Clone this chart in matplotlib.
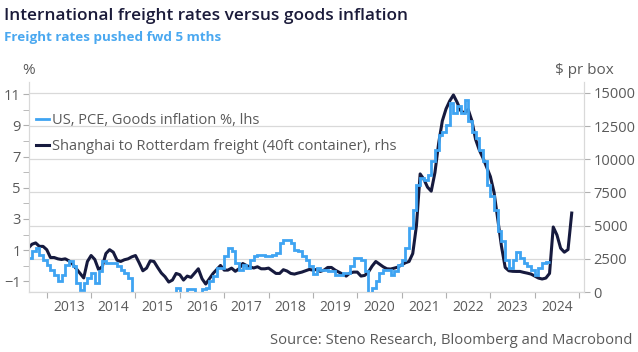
import numpy as np
import matplotlib.pyplot as plt
from matplotlib.ticker import MultipleLocator, FixedLocator, NullFormatter

plt.rcParams['font.family'] = ['Open Sans', 'DejaVu Sans']

# US PCE goods inflation, % y/y, monthly from Aug 2012
pce_2012 = [0.5, 0.92, 1.14, 0.71, 0.4]
pce_2013 = [0.07, -0.25, -0.57, -1.0, -0.57, 0.07, 0.28, -0.04, -1.1, -1.53, -1.1, -0.78]
pce_2014 = [-0.46, -1.1, -0.36, 0.28, 0.18, 0.18, 0.18, -0.04, -0.25, -0.46, -0.8, -2.0]
pce_2015 = [-2.2, -2.6, -2.5, -2.7, -2.5, -2.4, -2.6, -2.8, -2.7, -2.5, -2.3, -1.4]
pce_2016 = [-2.0, -1.9, -1.5, -1.5, -2.0, -1.9, -1.5, -1.4, -1.0, -0.68, -0.12, -0.12]
pce_2017 = [0.6, 1.14, 0.92, 0.18, -0.25, 0.07, -0.14, 0.39, 0.6, 0.71, 0.71, 0.6]
pce_2018 = [0.6, 0.71, 0.8, 1.46, 1.67, 1.67, 1.46, 1.03, 0.92, 0.6, 0.39, -0.04]
pce_2019 = [-0.5, -0.14, -0.25, -0.25, -0.36, -0.36, -0.57, -0.57, -0.46, -0.46, -0.04, 0.5]
pce_2020 = [0.5, 0.39, -0.36, -2.2, -1.42, -1.0, -0.46, -0.25, -0.25, -0.57, -0.36, 0.07]
pce_2021 = [0.39, 1.14, 2.42, 3.6, 5.2, 5.63, 5.52, 5.84, 6.69, 7.44, 8.4, 8.6]
pce_2022 = [9.0, 10.44, 9.8, 10.22, 9.8, 10.6, 9.26, 8.6, 8.2, 7.44, 6.69, 5.2]
pce_2023 = [4.45, 3.6, 2.2, 1.56, 0.39, -0.14, 0.39, 0.86, 0.5, 0.18, -0.04, -0.25]
pce_2024 = [-0.57, -0.14, 0.18, 0.24]

# Shanghai-Rotterdam 40ft container, $ per box, pushed 5 months forward, monthly from Aug 2012
fr_2012 = [3300, 3600, 3700, 3440, 3440]
fr_2013 = [3190, 2600, 2600, 2500, 2450, 2500, 2350, 2100, 1750, 1400, 1060, 2300]
fr_2014 = [2750, 2450, 1700, 1900, 2900, 3190, 3000, 2400, 2300, 2430, 2500, 2650]
fr_2015 = [2750, 2200, 1600, 1800, 2350, 2300, 1850, 1430, 1150, 750, 900, 1400]
fr_2016 = [1300, 900, 1200, 1100, 1430, 1750, 1000, 600, 1000, 1400, 1700, 2000]
fr_2017 = [1650, 1650, 1800, 1560, 1750, 2150, 2000, 1880, 1810, 1900, 1750, 1750]
fr_2018 = [1800, 1600, 1400, 1400, 1680, 1580, 1400, 1350, 1430, 1500, 1600, 1700]
fr_2019 = [1650, 1700, 1550, 1650, 1850, 1850, 1650, 1500, 1350, 1200, 1430, 1500]
fr_2020 = [1500, 1200, 1250, 1500, 1950, 2300, 2100, 1900, 1750, 1730, 1800, 1880]
fr_2021 = [2050, 2200, 2300, 2900, 5000, 8900, 8500, 7900, 7600, 9000, 11200, 12900]
fr_2022 = [13800, 14400, 14850, 14300, 13650, 13500, 13750, 12900, 11500, 10700, 10100, 9400]
fr_2023 = [8700, 7500, 5500, 3440, 1850, 1600, 1560, 1550, 1550, 1480, 1420, 1350]
fr_2024 = [1200, 1050, 980, 1050, 1400, 4900, 4300, 3300, 3000, 3200, 5950]

years = list(range(2013, 2025))
start = 2012 + 7 / 12

pce = np.concatenate([pce_2012, pce_2013, pce_2014, pce_2015, pce_2016, pce_2017, pce_2018,
                      pce_2019, pce_2020, pce_2021, pce_2022, pce_2023, pce_2024])
fr = np.concatenate([fr_2012, fr_2013, fr_2014, fr_2015, fr_2016, fr_2017, fr_2018,
                     fr_2019, fr_2020, fr_2021, fr_2022, fr_2023, fr_2024])
pce_edges = start + np.arange(len(pce) + 1) / 12
fr_t = start + np.arange(len(fr)) / 12

blue = '#3fa4f2'
navy = '#161a3e'
grey = '#5a5a5a'
light = '#d9d9d9'

fig = plt.figure(figsize=(6.38, 3.52), dpi=100)
ax = fig.add_axes([29 / 638, 1 - 292 / 352, 555 / 638, 210 / 352])
ax2 = ax.twinx()
ax.set_zorder(2)
ax2.set_zorder(1)
ax.patch.set_visible(False)

ax2.plot(fr_t, fr, color=navy, lw=2.2, solid_joinstyle='round',
         label='Shanghai to Rotterdam freight (40ft container), rhs')
ax.stairs(pce, pce_edges, baseline=None, color=blue, lw=2.0,
          label='US, PCE, Goods inflation %, lhs')

ax.set_xlim(2012.6, 2025.11)
ax.set_ylim(-1.68, 11.78)
ax2.set_ylim(0, 15829)

ax.yaxis.set_major_locator(FixedLocator([-1, 1, 3, 5, 7, 9, 11]))
ax.yaxis.set_minor_locator(FixedLocator([0, 2, 4, 6, 8, 10]))
ax2.yaxis.set_major_locator(MultipleLocator(2500))
ax2.yaxis.grid(True, color=light, lw=0.9)

ax.xaxis.set_major_locator(FixedLocator(years + [2025]))
ax.xaxis.set_major_formatter(NullFormatter())
ax.xaxis.set_minor_locator(FixedLocator([y + 0.5 for y in years]))
ax.set_xticklabels([str(y) for y in years], minor=True)

for a in (ax, ax2):
    for s in a.spines.values():
        s.set_color(light)
    a.spines['top'].set_visible(False)
ax.tick_params(axis='x', which='major', length=4, color='#b0b0b0')
ax.tick_params(axis='x', which='minor', length=0, labelsize=10, labelcolor=grey, pad=6)
ax.tick_params(axis='y', which='both', length=4, color='#b0b0b0', labelsize=10.5,
               labelcolor=grey, pad=2)
ax2.tick_params(axis='y', length=4, color='#b0b0b0', labelsize=10.5, labelcolor=grey, pad=3)

h1, l1 = ax.get_legend_handles_labels()
h2, l2 = ax2.get_legend_handles_labels()
leg = ax.legend(h1 + h2, l1 + l2, loc='upper left', bbox_to_anchor=(0.0, 0.885),
                frameon=False, fontsize=10.5, handlelength=0.9, handletextpad=0.2,
                labelspacing=0.7, borderaxespad=0.1, labelcolor=grey)

fig.text(4 / 638, 1 - 16 / 352, 'International freight rates versus goods inflation',
         fontsize=12.4, fontweight='semibold', color='#1b1b3a', va='center', ha='left')
fig.text(4 / 638, 1 - 38 / 352, 'Freight rates pushed fwd 5 mths',
         fontsize=9.7, fontweight='bold', color='#4aa8f0', va='center', ha='left')
fig.text(29 / 638, 1 - 70 / 352, '%', fontsize=11, color=grey, va='center', ha='center')
fig.text(584 / 638, 1 - 70 / 352, '$ pr box', fontsize=11, color=grey, va='center', ha='center')
fig.text(632 / 638, 1 - 341 / 352, 'Source: Steno Research, Bloomberg and Macrobond',
         fontsize=10.7, color=grey, va='center', ha='right')

fig.savefig('out.png', dpi=100)
